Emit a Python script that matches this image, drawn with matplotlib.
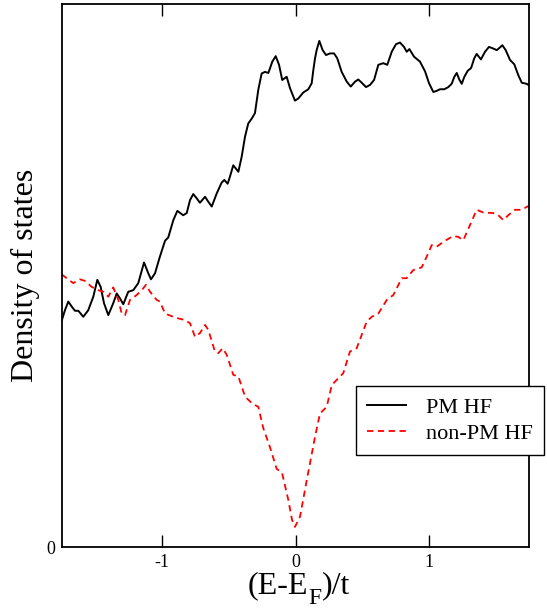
import matplotlib
matplotlib.use("Agg")
import matplotlib.pyplot as plt

plt.rcParams['font.family'] = ['Liberation Serif', 'DejaVu Serif']

# PM HF density of states (arbitrary units)
pm_x = [-1.747, -1.723, -1.698, -1.673, -1.648, -1.623, -1.586, -1.549, -1.511, -1.481,
        -1.456, -1.431, -1.399, -1.362, -1.336, -1.312, -1.287, -1.250, -1.212, -1.175,
        -1.132, -1.100, -1.080, -1.050, -1.013, -0.975, -0.951, -0.913, -0.883, -0.839,
        -0.813, -0.788, -0.764, -0.738, -0.714, -0.676, -0.652, -0.626, -0.589, -0.552,
        -0.532, -0.507, -0.490, -0.465, -0.427, -0.402, -0.377, -0.353, -0.327, -0.303,
        -0.278, -0.253, -0.228, -0.203, -0.173, -0.148, -0.123, -0.099, -0.066, -0.041,
        -0.004, 0.021, 0.058, 0.096, 0.121, 0.133, 0.146, 0.158, 0.178, 0.203,
        0.228, 0.258, 0.288, 0.312, 0.345, 0.383, 0.413, 0.445, 0.469, 0.495,
        0.527, 0.557, 0.587, 0.619, 0.656, 0.686, 0.719, 0.751, 0.781, 0.811,
        0.831, 0.851, 0.886, 0.910, 0.930, 0.968, 0.998, 1.030, 1.055, 1.080,
        1.112, 1.142, 1.167, 1.187, 1.205, 1.224, 1.242, 1.262, 1.287, 1.312,
        1.336, 1.354, 1.386, 1.416, 1.446, 1.478, 1.504, 1.528, 1.546, 1.571,
        1.603, 1.635, 1.665, 1.691, 1.728, 1.740]
pm_y = [0.417, 0.436, 0.452, 0.443, 0.435, 0.435, 0.424, 0.436, 0.461, 0.492,
        0.479, 0.449, 0.427, 0.449, 0.467, 0.458, 0.447, 0.470, 0.473, 0.486,
        0.524, 0.504, 0.493, 0.504, 0.535, 0.564, 0.570, 0.602, 0.619, 0.611,
        0.615, 0.639, 0.650, 0.642, 0.634, 0.645, 0.636, 0.627, 0.651, 0.671,
        0.676, 0.669, 0.682, 0.703, 0.691, 0.719, 0.756, 0.780, 0.789, 0.799,
        0.842, 0.872, 0.875, 0.873, 0.894, 0.904, 0.888, 0.860, 0.866, 0.845,
        0.822, 0.826, 0.837, 0.843, 0.854, 0.878, 0.900, 0.915, 0.932, 0.915,
        0.906, 0.909, 0.909, 0.900, 0.875, 0.857, 0.848, 0.857, 0.861, 0.855,
        0.847, 0.851, 0.860, 0.888, 0.891, 0.888, 0.912, 0.926, 0.929, 0.921,
        0.912, 0.917, 0.903, 0.898, 0.894, 0.876, 0.854, 0.838, 0.840, 0.843,
        0.843, 0.847, 0.853, 0.866, 0.873, 0.861, 0.853, 0.866, 0.877, 0.882,
        0.900, 0.908, 0.898, 0.912, 0.921, 0.918, 0.915, 0.920, 0.924, 0.915,
        0.897, 0.889, 0.869, 0.855, 0.853, 0.851]

# non-PM HF density of states (arbitrary units)
npm_x = [-1.747, -1.710, -1.661, -1.611, -1.573, -1.523, -1.474, -1.436, -1.399, -1.362,
         -1.324, -1.299, -1.274, -1.237, -1.187, -1.149, -1.117, -1.087, -1.037, -1.013,
         -0.975, -0.925, -0.876, -0.826, -0.788, -0.751, -0.714, -0.676, -0.652, -0.602,
         -0.577, -0.544, -0.514, -0.465, -0.427, -0.377, -0.327, -0.278, -0.241, -0.191,
         -0.141, -0.101, -0.054, -0.026, -0.004, 0.034, 0.084, 0.146, 0.183, 0.233,
         0.271, 0.320, 0.357, 0.407, 0.457, 0.532, 0.570, 0.619, 0.682, 0.731,
         0.794, 0.831, 0.880, 0.943, 0.981, 1.018, 1.055, 1.105, 1.179, 1.217,
         1.254, 1.304, 1.354, 1.404, 1.478, 1.516, 1.553, 1.590, 1.640, 1.691, 1.740]
npm_y = [0.502, 0.495, 0.486, 0.493, 0.490, 0.479, 0.473, 0.470, 0.461, 0.478,
         0.455, 0.430, 0.427, 0.455, 0.464, 0.473, 0.483, 0.470, 0.455, 0.452,
         0.430, 0.425, 0.421, 0.418, 0.412, 0.387, 0.394, 0.409, 0.400, 0.360,
         0.357, 0.366, 0.354, 0.317, 0.314, 0.277, 0.265, 0.258, 0.219, 0.184,
         0.144, 0.137, 0.087, 0.050, 0.037, 0.056, 0.123, 0.203, 0.246, 0.258,
         0.298, 0.311, 0.320, 0.360, 0.366, 0.415, 0.424, 0.430, 0.455, 0.464,
         0.495, 0.495, 0.510, 0.515, 0.535, 0.556, 0.553, 0.562, 0.573, 0.571,
         0.565, 0.593, 0.621, 0.616, 0.615, 0.611, 0.602, 0.611, 0.621, 0.621, 0.628]

x_ticks = [-1, 0, 1]
x_ticklabels = ['-1', '0', '1']
y_ticks = [0]
y_ticklabels = ['0']

W, H = 547, 610
fig = plt.figure(figsize=(W / 100, H / 100), dpi=100)
ax = fig.add_axes([62 / W, 1 - 547 / H, (529 - 62) / W, (547 - 4) / H])

ax.plot(pm_x, pm_y, color='black', lw=1.4, label='PM HF')
ax.plot(npm_x, npm_y, color='red', lw=1.3, dashes=(3.5, 2.5), label='non-PM HF')

ax.set_xlim(-1.745, 1.745)
ax.set_ylim(0, 1.0)
ax.set_xticks(x_ticks)
ax.set_xticklabels(x_ticklabels)
ax.set_yticks(y_ticks)
ax.set_yticklabels(y_ticklabels)
ax.tick_params(axis='x', direction='in', length=8.5, width=1, top=True, labelsize=13, pad=5)
ax.tick_params(axis='y', length=0, labelsize=13, pad=5)
for s in ax.spines.values():
    s.set_linewidth(1.3)

ax.set_ylabel('Density of states', fontsize=23)
ax.yaxis.set_label_coords(-0.047, 0.5)

# x label "(E-E_F)/t" with a low, large subscript as in the reference
parts = [('(E-E', 23, 0), ('F', 17, -11), (')/t', 23, 0)]
renderer = fig.canvas.get_renderer()
texts, widths = [], []
for s, fs, dy in parts:
    t = fig.text(0, 0, s, fontsize=fs, va='baseline', ha='left')
    widths.append(t.get_window_extent(renderer).width)
    texts.append(t)
total = sum(widths)
x0 = 299 - total / 2
base = H - 593
for t, (s, fs, dy), w in zip(texts, parts, widths):
    t.set_position((x0 / W, (base + dy) / H))
    x0 += w

leg = ax.legend(loc='upper left', bbox_to_anchor=(356 / W, 1 - 386 / H),
                bbox_transform=fig.transFigure, borderaxespad=0,
                fontsize=16, frameon=True, fancybox=False, framealpha=1,
                edgecolor='black', handlelength=1.75, handletextpad=0.9,
                labelspacing=0.25, borderpad=0.5)
leg.get_frame().set_linewidth(1.0)

fig.savefig('out.png', dpi=100)
